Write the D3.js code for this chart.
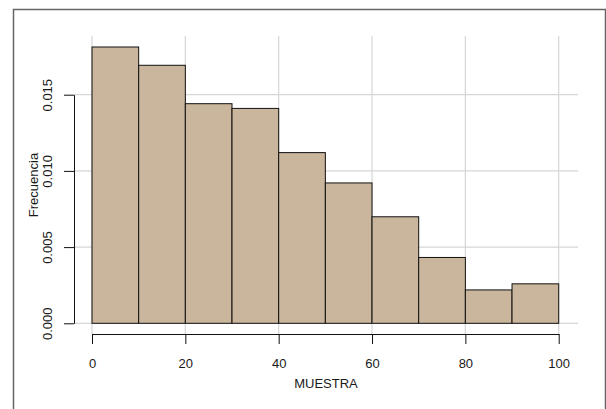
<!DOCTYPE html>
<html>
<meta charset="utf-8">
<style>
body {
  margin: 0;
  background: #fff;
}
svg text {
  font-family: "Liberation Sans", Arial, sans-serif;
  font-size: 13px;
  fill: #1a1a1a;
}
.grid line {
  stroke: #d6d6d6;
  stroke-width: 1.2px;
}
.bars rect {
  fill: #c9b69d;
  stroke: #111;
  stroke-width: 1px;
}
</style>
<body>
<svg width="606" height="409"></svg>
<script src="https://d3js.org/d3.v7.min.js"></script>
<script>

// histogram bins (density scale)
var breaks = [0, 10, 20, 30, 40, 50, 60, 70, 80, 90, 100];
var density = [0.01813, 0.01693, 0.01441, 0.01410, 0.01120, 0.00921, 0.00699, 0.00432, 0.00219, 0.00259];
var xTicks = [0, 20, 40, 60, 80, 100];
var yTicks = [0, 0.005, 0.010, 0.015];
var xLabel = "MUESTRA",
    yLabel = "Frecuencia";

var svg = d3.select("svg");

var x = d3.scaleLinear().domain([0, 100]).range([92, 558.7]);
var y = d3.scaleLinear().domain([0, 0.015]).range([323.3, 94.7]);

// outer frame
svg.append("path")
    .attr("d", "M13.5,409V9.5H605.5V409")
    .attr("fill", "none")
    .attr("stroke", "#666")
    .attr("stroke-width", 1.5);

// grid
var grid = svg.append("g").attr("class", "grid");
grid.selectAll(".v")
  .data(xTicks)
  .enter().append("line")
    .attr("x1", function(d) { return x(d); })
    .attr("x2", function(d) { return x(d); })
    .attr("y1", 36)
    .attr("y2", 334);
grid.selectAll(".h")
  .data(yTicks)
  .enter().append("line")
    .attr("x1", 74)
    .attr("x2", 578)
    .attr("y1", function(d) { return y(d); })
    .attr("y2", function(d) { return y(d); });

// bars
var bins = density.map(function(d, i) { return {x0: breaks[i], x1: breaks[i + 1], v: d}; });
svg.append("g")
    .attr("class", "bars")
  .selectAll("rect")
  .data(bins)
  .enter().append("rect")
    .attr("x", function(d) { return x(d.x0); })
    .attr("width", function(d) { return x(d.x1) - x(d.x0); })
    .attr("y", function(d) { return y(d.v); })
    .attr("height", function(d) { return y(0) - y(d.v); });

// axes
var xAxis = svg.append("g")
    .attr("transform", "translate(0,334)")
    .call(d3.axisBottom(x).tickValues(xTicks).tickSize(10).tickSizeOuter(0).tickFormat(d3.format("d")));
xAxis.selectAll("text")
    .attr("y", 25)
    .attr("font-size", null);

var yAxis = svg.append("g")
    .attr("transform", "translate(74,0)")
    .call(d3.axisLeft(y).tickValues(yTicks).tickSize(10).tickSizeOuter(0).tickFormat(d3.format(".3f")));
yAxis.selectAll("text")
    .attr("x", 0)
    .attr("y", -22)
    .attr("dy", null)
    .attr("transform", "rotate(-90)")
    .attr("text-anchor", "middle");

svg.selectAll(".tick text").attr("font-family", null).attr("font-size", null);
svg.selectAll(".domain, .tick line").attr("stroke", "#111");

// axis titles
svg.append("text")
    .attr("x", 326)
    .attr("y", 388)
    .attr("text-anchor", "middle")
    .text(xLabel);

svg.append("text")
    .attr("transform", "translate(37.5,185) rotate(-90)")
    .attr("text-anchor", "middle")
    .text(yLabel);

</script>
</body>
</html>
